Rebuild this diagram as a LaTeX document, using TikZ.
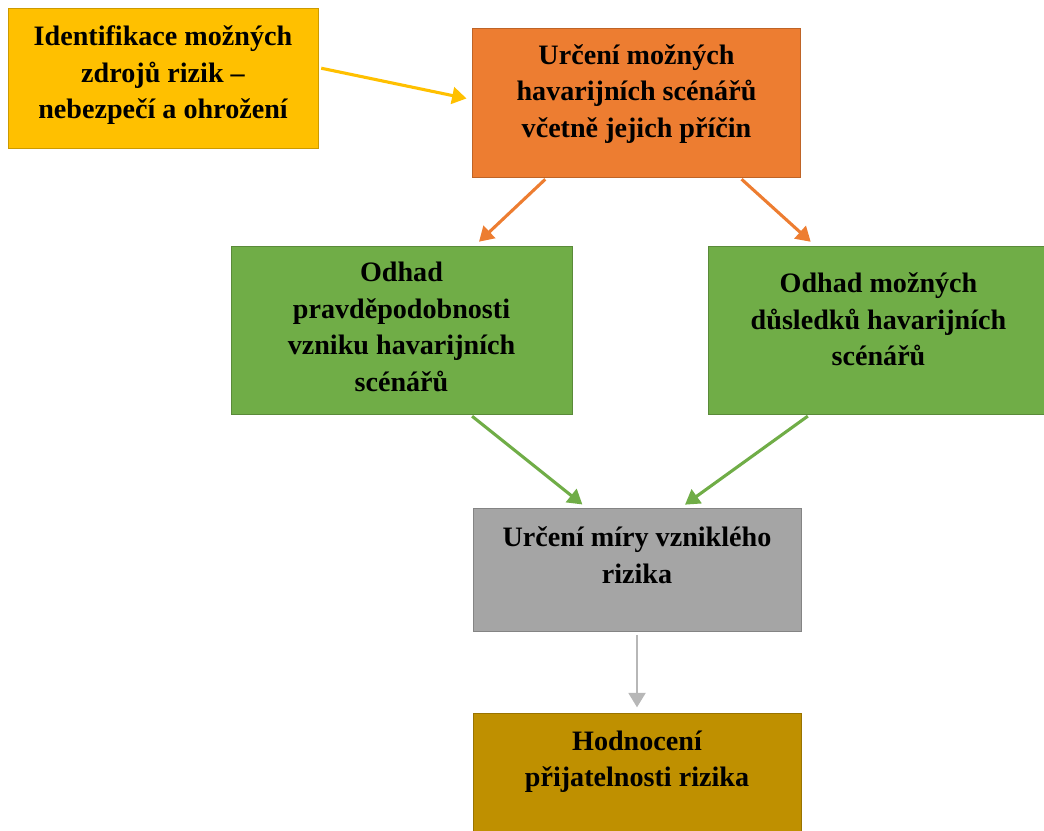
\documentclass[tikz,border=0pt]{standalone}
\usepackage{fontspec}
\setmainfont{Liberation Serif}
\usepackage{xcolor}
\usepackage{tikz}
\usetikzlibrary{arrows.meta}

\definecolor{zluta}{HTML}{FFC000}
\definecolor{oranzova}{HTML}{ED7D31}
\definecolor{zelena}{HTML}{70AD47}
\definecolor{seda}{HTML}{A5A5A5}
\definecolor{hneda}{HTML}{BF9000}

\tikzset{
  blok/.style={draw=#1!80!black, fill=#1, line width=0.6pt, inner sep=0pt},
  popis/.style={inner sep=0pt, align=center, anchor=north,
    execute at begin node=\strut,
    font=\fontsize{20}{26}\selectfont\bfseries},
  sipka/.style={draw=#1, line width=2.2pt, -{Triangle[length=3.6mm, width=4.2mm]},
    shorten <=2pt, shorten >=4pt},
}

\begin{document}
\begin{tikzpicture}[x=0.025cm, y=-0.025cm]
        \useasboundingbox (0,0) rectangle (1044,830);
        \clip (0,0) rectangle (1044,830);

        \node[blok=zluta, minimum width=7.75cm, minimum height=3.5cm] (zdroje) at (163, 78.5) {};
        \node[blok=oranzova, minimum width=8.2cm, minimum height=3.72cm] (scenare) at (636.5, 102.5) {};
        \node[blok=zelena, minimum width=8.525cm, minimum height=4.2cm] (pravdep) at (401.5, 330) {};
        \node[blok=zelena, minimum width=8.525cm, minimum height=4.2cm] (dusledky) at (878.5, 330) {};
        \node[blok=seda, minimum width=8.2cm, minimum height=3.08cm] (mira) at (637, 570) {};
        \node[blok=hneda, minimum width=8.2cm, minimum height=3.08cm] (hodnoceni) at (637, 775) {};

        \node[popis, yshift=-0.44cm] (zdrojeTxt) at (zdroje.north) {Identifikace možných\\zdrojů rizik –\\nebezpečí a ohrožení};
        \node[popis, yshift=-0.41cm] (scenareTxt) at (scenare.north) {Určení možných\\havarijních scénářů\\včetně jejich příčin};
        \node[popis, yshift=-0.41cm] (pravdepTxt) at (pravdep.north) {Odhad\\pravděpodobnosti\\vzniku havarijních\\scénářů};
        \node[popis, yshift=-0.67cm] (dusledkyTxt) at (dusledky.north) {Odhad možných\\důsledků havarijních\\scénářů};
        \node[popis, yshift=-0.47cm] (miraTxt) at (mira.north) {Určení míry vzniklého\\rizika};
        \node[popis, yshift=-0.43cm] (hodnoceniTxt) at (hodnoceni.north) {Hodnocení\\přijatelnosti rizika};

        \draw[sipka=zluta] (zdroje.4) -- (scenare.179);
        \draw[sipka=oranzova] (scenare.220) -- (pravdep.49);
        \draw[sipka=oranzova] (scenare.324) -- (dusledky.127);
        \draw[sipka=zelena] (pravdep.309) -- (mira.129);
        \draw[sipka=zelena] (dusledky.231) -- (mira.55);
        \draw[sipka=seda!80!white, line width=1.8pt] (mira.south) -- (hodnoceni.north);

\end{tikzpicture}
\end{document}
